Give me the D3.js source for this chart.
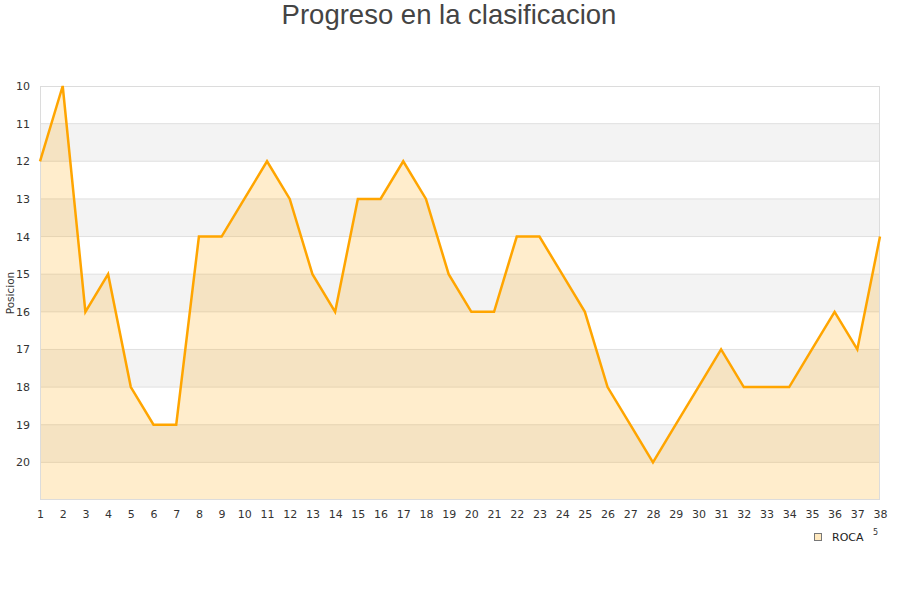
<!DOCTYPE html>
<html><head><meta charset="utf-8">
<script src="https://cdn.jsdelivr.net/npm/d3@7"></script>
<style>html,body{margin:0;padding:0;background:#fff;}</style>
</head><body>
<svg id="c" width="900" height="600"></svg>
<script>
const jornadas = d3.range(1, 39);
const posiciones = [12,10,16,15,18,19,19,14,14,13,12,13,15,16,13,13,12,13,15,16,16,14,14,15,16,18,19,20,19,18,17,18,18,18,17,16,17,14];
const yTicks = [10,11,12,13,14,15,16,17,18,19,20];
const serieNombre = "ROCA";
const titulo = "Progreso en la clasificacion";
const yTitulo = "Posicion";

const svg = d3.select("#c");
const m = {l:40, r:880, t:86, b:500};
const x = d3.scaleLinear().domain([1,38]).range([m.l, m.r]);
const y = d3.scaleLinear().domain([10,21]).range([m.t, m.b]);

// bands
for (let v = 11; v < 21; v += 2) {
  svg.append("rect").attr("x", m.l).attr("width", m.r - m.l)
    .attr("y", y(v)).attr("height", y(v+1) - y(v)).attr("fill", "#f3f3f3");
}
// gridlines
svg.append("g").selectAll("line").data(yTicks.slice(1)).join("line")
  .attr("x1", m.l).attr("x2", m.r).attr("y1", d => y(d)).attr("y2", d => y(d))
  .attr("stroke", "#e0e0e0").attr("stroke-width", 1);

// area
const area = d3.area().x((d,i) => x(jornadas[i])).y0(y(21)).y1(d => y(d));
svg.append("path").datum(posiciones).attr("d", area)
  .attr("fill", "orange").attr("fill-opacity", 0.2);

// border
svg.append("rect").attr("x", m.l + 0.5).attr("y", m.t + 0.5)
  .attr("width", m.r - m.l - 1).attr("height", m.b - m.t - 1)
  .attr("fill", "none").attr("stroke", "#dcdcdc");

// line
const line = d3.line().x((d,i) => x(jornadas[i])).y(d => y(d));
svg.append("path").datum(posiciones).attr("d", line)
  .attr("fill", "none").attr("stroke", "orange").attr("stroke-width", 2.5)
  .attr("stroke-linejoin", "miter");

// axes
const yAxis = d3.axisLeft(y).tickValues(yTicks).tickSize(0).tickPadding(10);
const gy = svg.append("g").attr("transform", `translate(${m.l},0)`).call(yAxis);
gy.select(".domain").remove();
gy.selectAll("text").attr("font-family", "DejaVu Sans").attr("font-size", 11).attr("fill", "#333");

const xAxis = d3.axisBottom(x).tickValues(jornadas).tickFormat(d3.format("d")).tickSize(0).tickPadding(10);
const gx = svg.append("g").attr("transform", `translate(0,${m.b})`).call(xAxis);
gx.select(".domain").remove();
gx.selectAll("text").attr("font-family", "DejaVu Sans").attr("font-size", 11).attr("fill", "#333");

// title
svg.append("text").attr("x", 449).attr("y", 24).attr("text-anchor", "middle")
  .attr("font-family", "Liberation Sans, Arial, sans-serif").attr("font-size", 27.5)
  .attr("fill", "#444").text(titulo);

// y title
svg.append("text").attr("transform", "translate(14,293) rotate(-90)")
  .attr("text-anchor", "middle").attr("font-family", "DejaVu Sans").attr("font-size", 10.5)
  .attr("fill", "#333").text(yTitulo);

// legend
svg.append("rect").attr("x", 814.5).attr("y", 533.5).attr("width", 7).attr("height", 7)
  .attr("fill", "#ffe9bf").attr("stroke", "#777").attr("stroke-width", 1);
svg.append("text").attr("x", 832).attr("y", 541).attr("font-family", "DejaVu Sans")
  .attr("font-size", 11).attr("fill", "#222").text(serieNombre);
svg.append("text").attr("x", 873).attr("y", 535).attr("font-family", "DejaVu Sans")
  .attr("font-size", 8).attr("fill", "#333").text("5");
</script>
</body></html>
